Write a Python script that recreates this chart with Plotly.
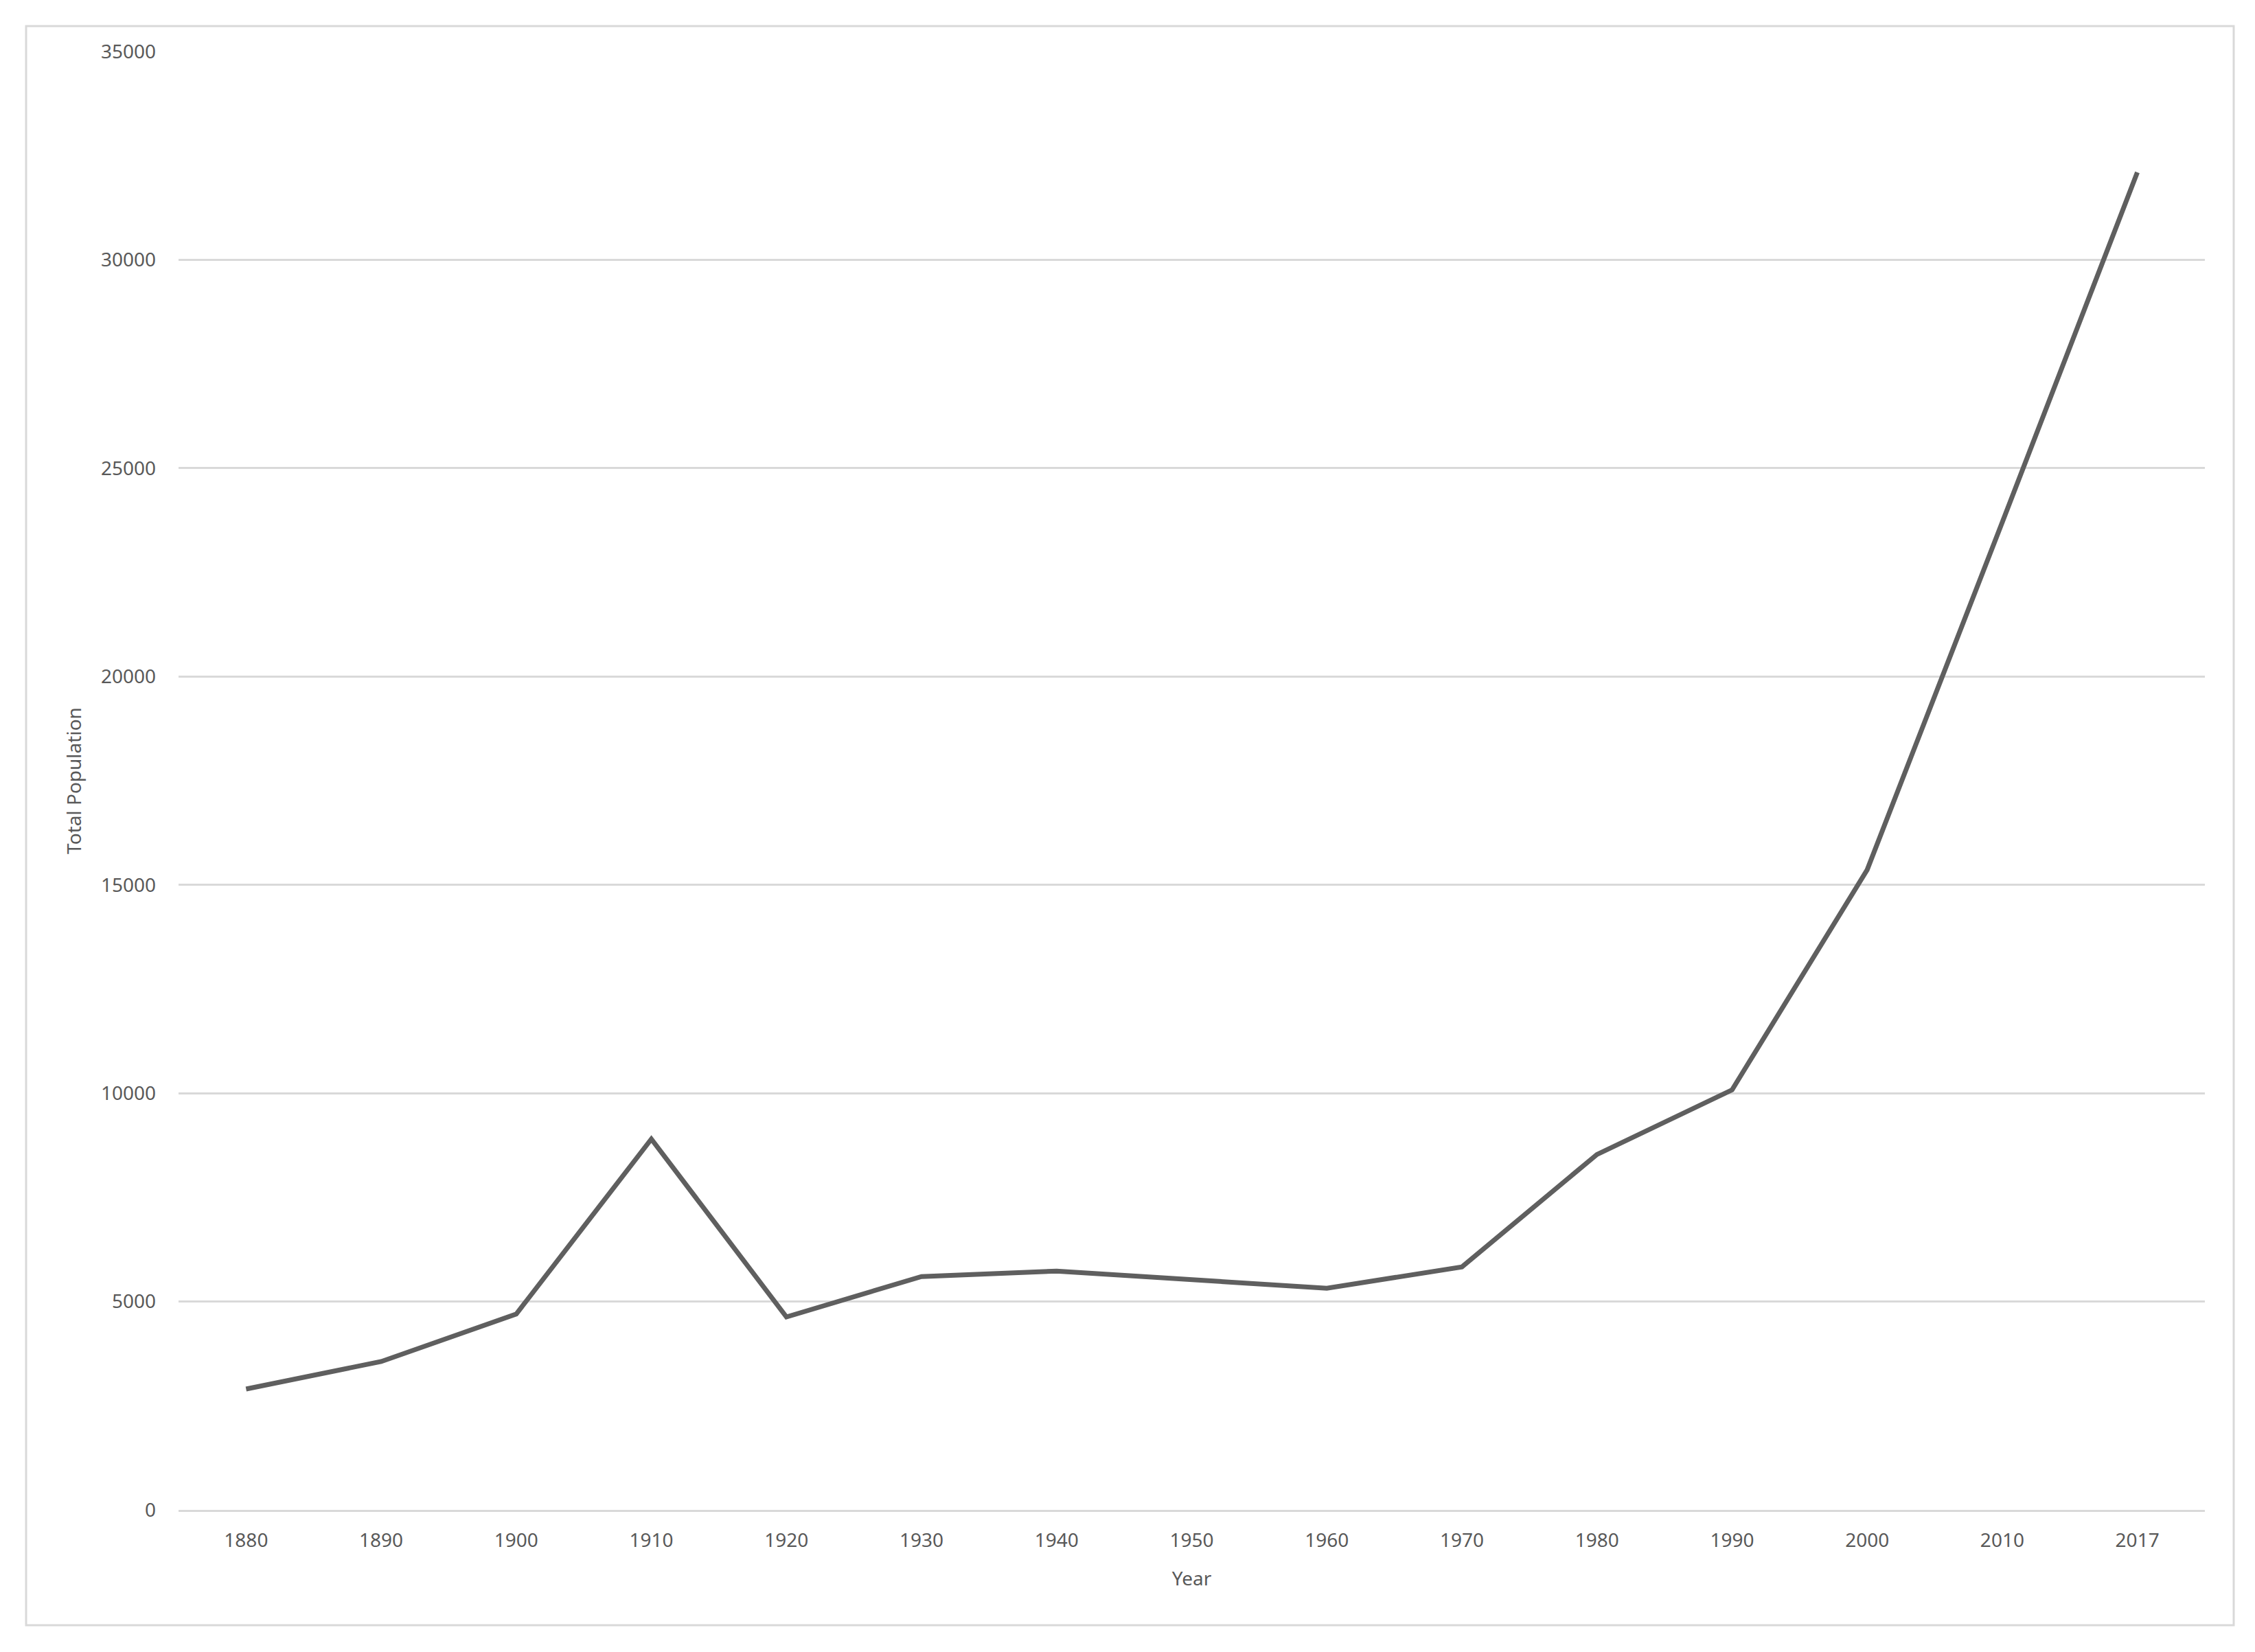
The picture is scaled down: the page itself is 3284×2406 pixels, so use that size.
import plotly.graph_objects as go

years = ["1880", "1890", "1900", "1910", "1920", "1930", "1940", "1950",
         "1960", "1970", "1980", "1990", "2000", "2010", "2017"]
population = [2900, 3560, 4700, 8900, 4630, 5600, 5730, 5520,
              5320, 5830, 8530, 10080, 15360, 23700, 32100]
y_ticks = [0, 5000, 10000, 15000, 20000, 25000, 30000, 35000]

# page body has an 8px margin, so the figure is laid out 8px smaller
W, H = 3276, 2398
L, R, T, B = 252, 73, 67, 207
pw, ph = W - L - R, H - T - B

fig = go.Figure()
fig.add_trace(go.Scatter(
    x=years, y=population, mode="lines",
    line=dict(color="#5f5f5f", width=7),
    showlegend=False,
))

font_family = "Noto Sans, Open Sans, sans-serif"
tick_color = "#595959"

fig.update_layout(
    width=W, height=H,
    margin=dict(l=L, r=R, t=T, b=B),
    paper_bgcolor="white", plot_bgcolor="white",
    font=dict(family=font_family, size=28, color=tick_color),
    xaxis=dict(
        type="category",
        range=[-0.5, len(years) - 0.5],
        automargin=False,
        showgrid=False,
        showline=True, linecolor="#d9d9d9", linewidth=2.5,
        ticks="", ticklabelstandoff=18,
        tickfont=dict(size=28, color=tick_color),
        title=dict(text="Year", font=dict(size=28, color=tick_color), standoff=30),
        zeroline=False,
    ),
    yaxis=dict(
        range=[0, 35000],
        automargin=False,
        tickvals=y_ticks,
        ticktext=[str(v) for v in y_ticks],
        showgrid=True, gridcolor="#d9d9d9", gridwidth=2.5,
        showline=False, zeroline=False,
        ticks="", ticklabelstandoff=32,
        tickfont=dict(size=28, color=tick_color),
        title=dict(text="Total Population", font=dict(size=28, color=tick_color), standoff=20),
    ),
    shapes=[dict(
        type="rect", xref="paper", yref="paper",
        x0=(30 - L) / pw, x1=(3245 - L) / pw,
        y0=(H - B - 2359) / ph, y1=(H - B - 30) / ph,
        line=dict(color="#d9d9d9", width=3),
        fillcolor="rgba(0,0,0,0)", layer="below",
    )],
)

fig.write_html("out.html")
